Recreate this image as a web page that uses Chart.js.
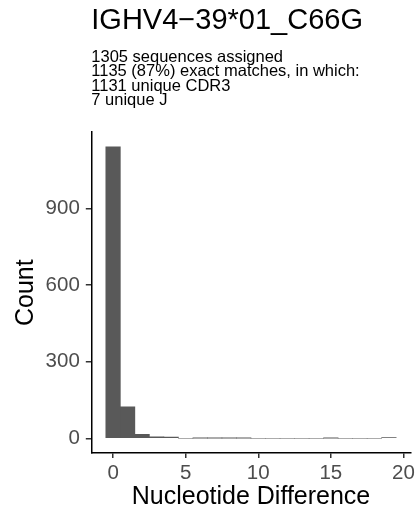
<!DOCTYPE html>
<html>
<head>
<meta charset="utf-8">
<script src="https://cdn.jsdelivr.net/npm/chart.js@4"></script>
<style>
  html, body { margin: 0; padding: 0; background: #fff; }
  #wrap { width: 418px; height: 512px; }
</style>
</head>
<body>
<div id="wrap"><canvas id="histChart" width="418" height="512"></canvas></div>
<script>
const TITLE = "IGHV4\u221239*01_C66G";
const SUBTITLE = [
  "1305 sequences assigned",
  "1135 (87%) exact matches, in which:",
  "1131 unique CDR3",
  "7 unique J"
];

// nucleotide difference bins (width 1) and their counts
const diffs = [0, 1, 2, 3, 4, 5, 6, 7, 8, 9, 10, 11, 12, 13, 14, 15, 16, 17, 18, 19];
const counts = [1141, 124, 16, 7, 6, 0, 1, 1, 1, 1, 0, 0, 0, 0, 0, 1, 0, 0, 0, 4];

const xTicks = [0, 5, 10, 15, 20];
const yTicks = [0, 300, 600, 900];

const FONT = "'Liberation Sans', Arial, Helvetica, sans-serif";

const ctx = document.getElementById("histChart").getContext("2d");

new Chart(ctx, {
  type: "bar",
  data: {
    datasets: [{
      data: diffs.map((d, i) => ({ x: d, y: counts[i] })),
      backgroundColor: "#595959",
      borderWidth: 0,
      barPercentage: 1,
      categoryPercentage: 1
    }]
  },
  options: {
    responsive: false,
    animation: false,
    layout: { padding: { left: 0, right: 4.2, top: 0, bottom: 0 } },
    plugins: {
      legend: { display: false },
      tooltip: { enabled: false },
      title: {
        display: true,
        text: TITLE,
        align: "start",
        fullSize: false,
        color: "#000",
        font: { family: FONT, size: 29, weight: "normal", lineHeight: 1 },
        padding: { top: 6, bottom: 0 }
      },
      subtitle: {
        display: true,
        text: SUBTITLE,
        align: "start",
        fullSize: false,
        color: "#000",
        font: { family: FONT, size: 16.5, weight: "normal", lineHeight: "14.3px" },
        padding: { top: 15.4, bottom: 24.6 }
      }
    },
    scales: {
      x: {
        type: "linear",
        min: -1.5,
        max: 20.5,
        offset: false,
        afterBuildTicks: (scale) => { scale.ticks = xTicks.map(v => ({ value: v })); },
        afterFit: (scale) => { scale.height = 58.9; },
        grid: { display: true, offset: false, drawOnChartArea: false, drawTicks: true, tickLength: 5, color: "#333333", lineWidth: 1.5 },
        border: { display: true, color: "#000", width: 1.5 },
        ticks: { color: "#4D4D4D", font: { family: FONT, size: 20.5 }, padding: 3, maxRotation: 0, autoSkip: false },
        title: {
          display: true,
          text: "Nucleotide Difference",
          color: "#000",
          font: { family: FONT, size: 25 },
          padding: { top: 0, bottom: 0 }
        }
      },
      y: {
        type: "linear",
        min: -57,
        max: 1198,
        afterBuildTicks: (scale) => { scale.ticks = yTicks.map(v => ({ value: v })); },
        afterFit: (scale) => { scale.width = 91.3; },
        grid: { display: true, drawOnChartArea: false, drawTicks: true, tickLength: 5.5, color: "#333333", lineWidth: 1.5 },
        border: { display: true, color: "#000", width: 1.5 },
        ticks: { color: "#4D4D4D", font: { family: FONT, size: 20.5 }, padding: 6, autoSkip: false },
        title: {
          display: true,
          text: "Count",
          color: "#000",
          font: { family: FONT, size: 25 },
          padding: { top: 11.5, bottom: 0 }
        }
      }
    }
  }
});
</script>
</body>
</html>
